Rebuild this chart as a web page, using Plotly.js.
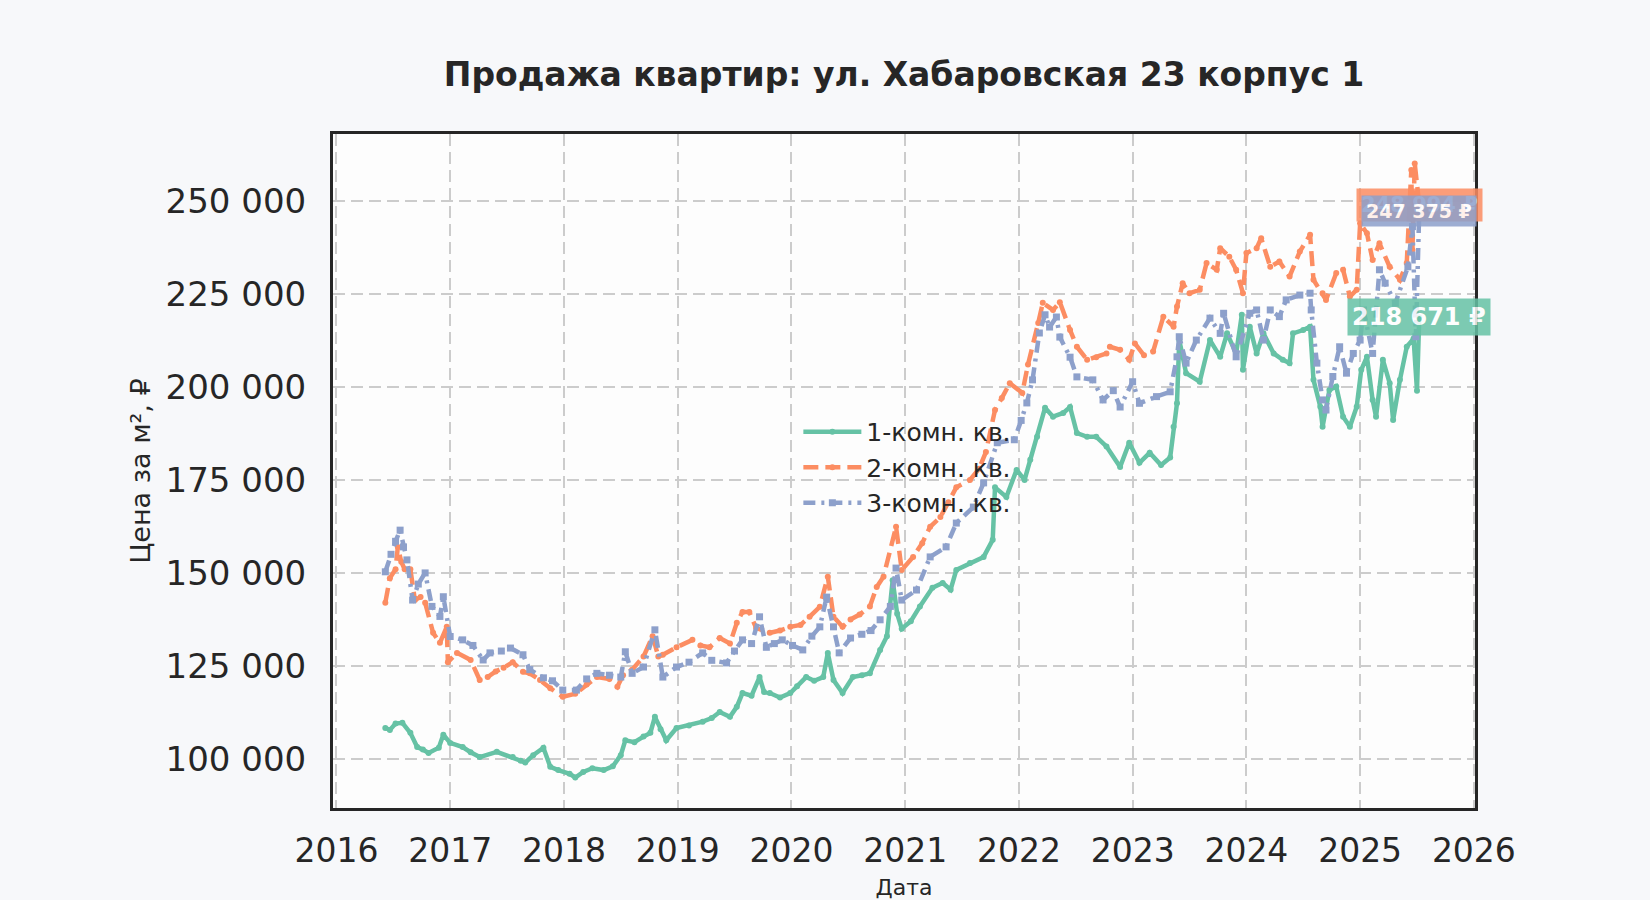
<!DOCTYPE html>
<html>
<head>
<meta charset="utf-8">
<script src="https://cdn.plot.ly/plotly-3.0.1.min.js"></script>
<style>
  html, body { margin: 0; padding: 0; background: #f7f8fa; }
  #myDiv { width: 1650px; height: 900px; }
</style>
</head>
<body>
<div id="myDiv"></div>
<script>
// даты в долях года, цены в рублях за м²
const x1 = [2016.43, 2016.47, 2016.52, 2016.58, 2016.65, 2016.71, 2016.76, 2016.81, 2016.90, 2016.94,
  2017.00, 2017.11, 2017.18, 2017.26, 2017.41, 2017.55, 2017.62, 2017.66, 2017.73, 2017.82,
  2017.88, 2017.95, 2018.05, 2018.10, 2018.17, 2018.25, 2018.35, 2018.43, 2018.50, 2018.54,
  2018.62, 2018.70, 2018.76, 2018.80, 2018.85, 2018.90, 2018.99, 2019.10, 2019.22, 2019.30,
  2019.37, 2019.46, 2019.52, 2019.57, 2019.65, 2019.72, 2019.76, 2019.81, 2019.90, 2019.99,
  2020.05, 2020.13, 2020.20, 2020.28, 2020.32, 2020.37, 2020.45, 2020.54, 2020.62, 2020.69,
  2020.78, 2020.84, 2020.89, 2020.93, 2020.97, 2021.05, 2021.13, 2021.24, 2021.33, 2021.40,
  2021.45, 2021.57, 2021.69, 2021.77, 2021.79, 2021.89, 2021.98, 2022.05, 2022.10, 2022.16,
  2022.23, 2022.30, 2022.39, 2022.45, 2022.51, 2022.60, 2022.68, 2022.77, 2022.89, 2022.97,
  2023.06, 2023.15, 2023.25, 2023.33, 2023.36, 2023.39, 2023.41, 2023.47, 2023.59, 2023.68,
  2023.77, 2023.83, 2023.91, 2023.96, 2023.97, 2024.03, 2024.09, 2024.15, 2024.24, 2024.32,
  2024.38, 2024.41, 2024.50, 2024.56, 2024.59, 2024.65, 2024.67, 2024.73, 2024.79, 2024.85,
  2024.91, 2024.97, 2025.01, 2025.06, 2025.11, 2025.14, 2025.20, 2025.26, 2025.29, 2025.35,
  2025.41, 2025.47, 2025.50, 2025.52]
const y1 = [108300, 107800, 109500, 109700, 107000, 103200, 102500, 101600, 103000, 106500,
  104300, 103200, 101800, 100500, 101900, 100500, 99500, 99000, 101000, 103000,
  97900, 97000, 96000, 95000, 96500, 97500, 97000, 98000, 101000, 105000,
  104500, 106000, 107000, 111300, 108000, 105000, 108300, 109000, 110000, 111000,
  112600, 111300, 114000, 117700, 117000, 122000, 118000, 117700, 116500, 117700,
  119500, 122000, 121000, 122000, 128500, 121200, 117700, 122000, 122500, 123000,
  129300, 133000, 148000, 139000, 135000, 137000, 141000, 146000, 147300, 145500,
  150800, 152700, 154300, 158900, 173000, 170400, 177700, 175000, 180400, 186600,
  194400, 192000, 193000, 194600, 187600, 186600, 186600, 184000, 178500, 185000,
  179600, 182300, 179000, 181000, 189300, 195600, 212600, 203700, 201400, 212600,
  208100, 214400, 209000, 219400, 204600, 216200, 209000, 214400, 209000, 207300,
  206400, 214400, 215300, 216200, 201900, 194700, 189300, 199200, 200100, 192000,
  189300, 194700, 204600, 208100, 196500, 192000, 207300, 201000, 191100, 201900,
  210800, 213000, 199000, 218671]

const x2 = [2016.43, 2016.47, 2016.52, 2016.54, 2016.57, 2016.60, 2016.65, 2016.69, 2016.74, 2016.78,
  2016.85, 2016.91, 2016.97, 2016.98, 2017.06, 2017.18, 2017.26, 2017.33, 2017.40, 2017.47,
  2017.55, 2017.64, 2017.70, 2017.79, 2017.88, 2017.99, 2018.10, 2018.20, 2018.29, 2018.40,
  2018.47, 2018.52, 2018.60, 2018.70, 2018.78, 2018.83, 2018.87, 2018.99, 2019.13, 2019.20,
  2019.28, 2019.37, 2019.46, 2019.52, 2019.57, 2019.63, 2019.69, 2019.81, 2019.90, 2019.99,
  2020.08, 2020.16, 2020.25, 2020.32, 2020.37, 2020.45, 2020.52, 2020.60, 2020.69, 2020.75,
  2020.81, 2020.92, 2020.97, 2021.07, 2021.15, 2021.22, 2021.31, 2021.38, 2021.45, 2021.57,
  2021.65, 2021.71, 2021.79, 2021.85, 2021.92, 2022.03, 2022.08, 2022.17, 2022.21, 2022.30,
  2022.36, 2022.45, 2022.51, 2022.60, 2022.68, 2022.77, 2022.80, 2022.89, 2022.97, 2023.02,
  2023.10, 2023.18, 2023.27, 2023.36, 2023.39, 2023.44, 2023.50, 2023.59, 2023.65, 2023.74,
  2023.77, 2023.85, 2023.91, 2023.97, 2024.00, 2024.09, 2024.13, 2024.21, 2024.29, 2024.38,
  2024.47, 2024.56, 2024.59, 2024.67, 2024.70, 2024.79, 2024.85, 2024.91, 2024.97, 2025.00,
  2025.06, 2025.11, 2025.17, 2025.26, 2025.35, 2025.41, 2025.45, 2025.46, 2025.48, 2025.52]
const y2 = [142000, 148600, 151000, 157000, 153000, 151000, 151000, 142700, 143500, 142000,
  133900, 131200, 135500, 126000, 128500, 126600, 121200, 122000, 123500, 124500,
  126000, 123400, 123000, 121200, 119000, 116700, 117500, 120000, 122000, 121500,
  119400, 122500, 124000, 127500, 133000, 127500, 128000, 130000, 132000, 130500,
  130000, 132500, 131000, 136600, 139500, 139500, 135200, 133900, 134500, 135500,
  136000, 138200, 140900, 149000, 138200, 135500, 137500, 138800, 141000, 146200,
  149000, 162400, 150800, 154300, 158000, 162400, 165000, 169000, 173000, 175000,
  178000, 182500, 193800, 197000, 201000, 198400, 206000, 217200, 222600, 220700,
  222800, 215300, 210800, 207300, 208000, 209000, 210800, 210000, 207300, 211700,
  208500, 209500, 218900, 216200, 221600, 227900, 225200, 226100, 233300, 231500,
  237300, 235000, 231500, 225200, 236000, 237300, 240000, 232300, 233700, 229700,
  236400, 240900, 228800, 225200, 223400, 230600, 231500, 224300, 226100, 244000,
  241300, 234100, 238600, 232300, 228800, 233300, 258300, 236800, 260100, 248994]

const x3 = [2016.43, 2016.48, 2016.52, 2016.56, 2016.59, 2016.62, 2016.67, 2016.72, 2016.78, 2016.84,
  2016.91, 2016.94, 2017.00, 2017.11, 2017.20, 2017.29, 2017.35, 2017.45, 2017.53, 2017.64,
  2017.70, 2017.82, 2017.90, 2017.99, 2018.11, 2018.20, 2018.29, 2018.40, 2018.50, 2018.54,
  2018.60, 2018.70, 2018.80, 2018.87, 2018.99, 2019.10, 2019.22, 2019.30, 2019.43, 2019.50,
  2019.57, 2019.65, 2019.72, 2019.78, 2019.85, 2019.92, 2020.01, 2020.10, 2020.18, 2020.25,
  2020.31, 2020.37, 2020.42, 2020.52, 2020.62, 2020.70, 2020.78, 2020.87, 2020.92, 2020.97,
  2021.10, 2021.22, 2021.36, 2021.45, 2021.60, 2021.69, 2021.81, 2021.96, 2022.02, 2022.07,
  2022.12, 2022.18, 2022.23, 2022.27, 2022.33, 2022.36, 2022.45, 2022.51, 2022.65, 2022.74,
  2022.83, 2022.89, 2023.00, 2023.06, 2023.21, 2023.33, 2023.39, 2023.41, 2023.47, 2023.56,
  2023.68, 2023.77, 2023.80, 2023.91, 2024.03, 2024.09, 2024.15, 2024.21, 2024.29, 2024.35,
  2024.47, 2024.56, 2024.57, 2024.62, 2024.67, 2024.70, 2024.76, 2024.82, 2024.88, 2024.94,
  2025.00, 2025.03, 2025.11, 2025.17, 2025.22, 2025.31, 2025.42, 2025.46, 2025.49, 2025.52]
const y3 = [150300, 155000, 158500, 161500, 157000, 153500, 142700, 147000, 150000, 141000,
  138300, 143600, 132900, 132000, 130500, 126600, 128500, 129000, 129800, 128000,
  124000, 121800, 121000, 118500, 118500, 121500, 123000, 122500, 122000, 128800,
  123000, 124700, 134700, 122000, 124700, 126000, 128500, 126500, 125800, 129000,
  132000, 131000, 138200, 130000, 131000, 132000, 130500, 129300, 133000, 135500,
  143500, 135500, 128500, 132500, 133500, 134500, 137400, 141000, 151300, 142700,
  145400, 154300, 157000, 163400, 167700, 174200, 185000, 185800, 191000, 195700,
  201900, 214500, 219400, 216100, 218800, 213400, 208000, 202700, 201900, 196500,
  199000, 194600, 201400, 195600, 197400, 198700, 208100, 213500, 206400, 212600,
  218500, 214400, 219800, 208100, 219800, 220700, 212600, 220700, 218900, 223400,
  224700, 225200, 220700, 206400, 196500, 193800, 202800, 210800, 203700, 209000,
  212600, 220700, 209000, 231500, 227900, 222500, 232300, 243100, 213500, 247375]

const names = ["1-комн. кв.", "2-комн. кв.", "3-комн. кв."]
const colors = ["#66c2a5", "#fc8d62", "#8da0cb"]
const endLabels = ["218 671 ₽", "248 994 ₽", "247 375 ₽"]

const font = "DejaVu Sans, Liberation Sans, sans-serif"
const ink = "#262626"

const trace1 = {
  x: x1, y: y1, name: names[0], legendgroup: "a",
  mode: "lines+markers", type: "scatter",
  line: { color: colors[0], width: 4.5 },
  marker: { color: colors[0], size: 6, symbol: "circle" },
}
const trace2 = {
  x: x2, y: y2, name: names[1], legendgroup: "b",
  mode: "lines+markers", type: "scatter",
  line: { color: colors[1], width: 4.5, dash: "15px,7px" },
  marker: { color: colors[1], size: 6, symbol: "circle" },
}
const trace3 = {
  x: x3, y: y3, name: names[2], legendgroup: "c",
  mode: "lines+markers", type: "scatter",
  line: { color: colors[2], width: 4.5, dash: "12px,6px,3px,6px" },
  marker: { color: colors[2], size: 7, symbol: "square" },
}
const data = [trace1, trace2, trace3]

function endLabel(xs, ys, i, size) {
  return {
    x: xs[xs.length - 1], y: ys[ys.length - 1],
    text: "<b>" + endLabels[i] + "</b>",
    showarrow: false, xanchor: "center", yanchor: "middle",
    font: { family: font, size: size, color: "#ffffff" },
    bgcolor: colors[i], opacity: 0.85, borderpad: 4,
  }
}

const layout = {
  width: 1650, height: 900,
  paper_bgcolor: "#f7f8fa",
  plot_bgcolor: "#fdfdfd",
  separators: ". ",
  margin: { l: 333, r: 175, t: 134, b: 92 },
  font: { family: font, color: ink },
  title: {
    text: "<b>Продажа квартир: ул. Хабаровская 23 корпус 1</b>",
    font: { family: font, size: 33, color: ink },
    x: 0.5, xref: "paper", xanchor: "center",
    y: 1 - 74 / 900, yanchor: "middle",
  },
  xaxis: {
    range: [2015.97, 2026.01],
    tickmode: "linear", tick0: 2016, dtick: 1, tickformat: "d",
    tickfont: { size: 33, color: ink },
    ticks: "", ticklabelstandoff: 11,
    showgrid: true, gridcolor: "#cccccc", gridwidth: 2, griddash: "12px,6px",
    zeroline: false,
    showline: true, linecolor: ink, linewidth: 3, mirror: true,
    title: { text: "Дата", font: { size: 22, color: ink }, standoff: 18 },
  },
  yaxis: {
    range: [86800, 268000],
    tickmode: "linear", tick0: 100000, dtick: 25000, tickformat: ",d",
    tickfont: { size: 34, color: ink },
    ticks: "", ticklabelstandoff: 17,
    showgrid: true, gridcolor: "#cccccc", gridwidth: 2, griddash: "12px,6px",
    zeroline: false,
    showline: true, linecolor: ink, linewidth: 3, mirror: true,
    title: { text: "Цена за м², ₽", font: { size: 27, color: ink }, standoff: 8 },
  },
  legend: {
    x: 0.4075, y: 0.592, xanchor: "left", yanchor: "top",
    bgcolor: "rgba(0,0,0,0)",
    font: { size: 25, color: ink },
    tracegroupgap: 0,
    itemwidth: 58,
  },
  annotations: [
    endLabel(x1, y1, 0, 24),
    endLabel(x2, y2, 1, 21),
    endLabel(x3, y3, 2, 19),
  ],
}

Plotly.newPlot("myDiv", data, layout, { displayModeBar: false })
</script>
</body>
</html>
